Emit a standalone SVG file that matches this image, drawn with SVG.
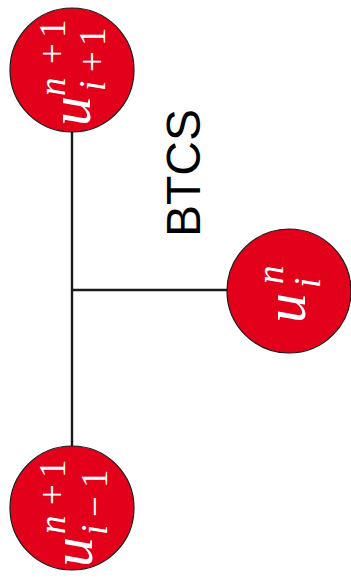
<svg xmlns="http://www.w3.org/2000/svg" width="351" height="585" viewBox="0 0 351 585">
<style>
.node circle{fill:#e2001a;stroke:#1a1a1a;stroke-width:1.2}
.m{fill:#fff;font-family:"Liberation Serif","DejaVu Serif",serif}
.v{font-style:italic}
.big{font-size:60px}
.sm{font-size:37px}
.conn line{stroke:#1a1a1a;stroke-width:2.4}
.lbl{font-family:"Liberation Sans","DejaVu Sans",sans-serif;font-size:48px;fill:#000}
</style>
<g id="connectors" class="conn">
<line x1="72" y1="132" x2="72" y2="446"/>
<line x1="71" y1="290" x2="228" y2="290"/>
</g>
<g id="node-top" class="node">
<circle cx="72" cy="70" r="62"/>
<g transform="translate(72,70) rotate(-90)">
<text class="m v big" x="-56" y="18">u</text>
<text class="m sm" y="-7"><tspan class="v" x="-26">n</tspan><tspan x="6">+</tspan><tspan x="32">1</tspan></text>
<text class="m sm" y="33"><tspan class="v" x="-21">i</tspan><tspan x="-2">+</tspan><tspan x="24">1</tspan></text>
</g>
</g>
<g id="node-bottom" class="node">
<circle cx="72" cy="508" r="62"/>
<g transform="translate(72,508) rotate(-90)">
<text class="m v big" x="-59" y="20">u</text>
<text class="m sm" y="-7"><tspan class="v" x="-26">n</tspan><tspan x="3">+</tspan><tspan x="30">1</tspan></text>
<text class="m sm" y="35"><tspan class="v" x="-27">i</tspan><tspan x="-9">−</tspan><tspan x="20">1</tspan></text>
</g>
</g>
<g id="node-right" class="node">
<circle cx="289" cy="291" r="62"/>
<g transform="translate(289,291) rotate(-90)">
<text class="m v big" x="-32" y="16">u</text>
<text class="m v sm" x="7" y="-6">n</text>
<text class="m v sm" x="3" y="31">i</text>
</g>
</g>
<g id="label">
<text class="lbl" transform="translate(200,173) rotate(-90)" text-anchor="middle">BTCS</text>
</g>
</svg>
